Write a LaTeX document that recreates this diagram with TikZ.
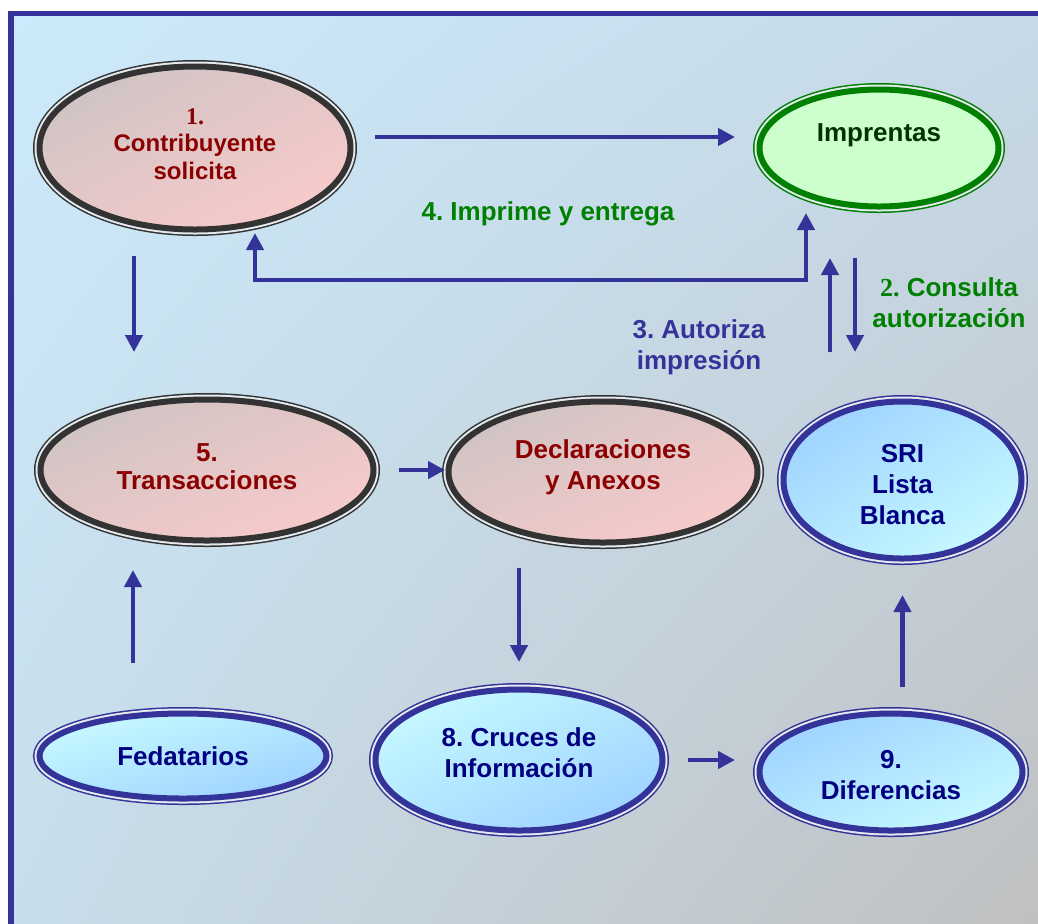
\documentclass[tikz,border=0pt]{standalone}
\usepackage{fontspec}
\setmainfont{Liberation Sans}
\newfontfamily\numfont{Liberation Serif}
\usetikzlibrary{shapes.geometric, arrows.meta, shadings}
\definecolor{frameBlue}{HTML}{333399}
\definecolor{bgLight}{HTML}{CCEAFB}
\definecolor{bgMidA}{HTML}{C6D9E7}
\definecolor{bgMidB}{HTML}{C7DDEA}
\definecolor{bgGray}{HTML}{BFBFBF}
\definecolor{ringDark}{HTML}{333333}
\definecolor{ringGreen}{HTML}{008000}
\definecolor{gapGray}{HTML}{E4EAEE}
\definecolor{pinkGray}{HTML}{C9C3C3}
\definecolor{pinkMid}{HTML}{E5C7C7}
\definecolor{pinkLight}{HTML}{FECBCB}
\definecolor{skyPale}{HTML}{CCFFFF}
\definecolor{skyMid}{HTML}{B3E6FF}
\definecolor{skyBlue}{HTML}{99CCFF}
\definecolor{mintFill}{HTML}{CCFFCC}
\definecolor{textRed}{HTML}{8B0000}
\definecolor{textNavy}{HTML}{000080}
\definecolor{textGreen}{HTML}{008000}
\definecolor{textDarkGreen}{HTML}{003300}

% invisible struts to nudge a label up (extra depth) or down (extra height)
\newcommand\textlift[1]{\rule[-#1]{0pt}{#1}}
\newcommand\textdrop[1]{\rule{0pt}{#1}}

\tikzset{flowhead/.tip={Triangle[length=8.5pt, width=8.5pt]}}

\begin{document}
\frenchspacing
\begin{tikzpicture}[x=0.5pt, y=-0.5pt,
    ringed/.style={ellipse, inner sep=0pt, outer sep=0pt, line width=3pt, draw=#1,
        preaction={draw=#1, line width=6.5pt},
        preaction={draw=gapGray, line width=5pt},
        align=center, font=\fontsize{13}{15.5}\selectfont\bfseries},
    redoval/.style={ringed=ringDark, text=textRed,
        upper left=pinkGray, upper right=pinkMid, lower left=pinkMid, lower right=pinkLight},
    blueoval/.style={ringed=frameBlue, text=textNavy,
        upper left=skyPale, upper right=skyMid, lower left=skyMid, lower right=skyBlue},
    bluerev/.style={ringed=frameBlue, text=textNavy,
        upper left=skyBlue, upper right=skyMid, lower left=skyMid, lower right=skyPale},
    greenoval/.style={ringed=ringGreen, text=textDarkGreen, fill=mintFill},
    flow/.style={draw=frameBlue, line width=2.3pt, -flowhead},
    note/.style={align=center, font=\fontsize{13}{15.5}\selectfont\bfseries}]

    % --- 1. Page and frame ---
    \useasboundingbox (0,0) rectangle (1038,923);
    \clip (0,0) rectangle (1038,923);
    \fill[white] (0,0) rectangle (1038,923);
    \shade[upper left=bgLight, upper right=bgMidA, lower left=bgMidB, lower right=bgGray]
        (11,13.5) rectangle (1060,950);
    \draw[frameBlue, line width=2.75pt] (11,13.5) rectangle (1060,950);

    % --- 2. Ovals ---
    \node[redoval, font=\fontsize{12}{13.8}\selectfont\bfseries,
        minimum width=155.5pt, minimum height=81.5pt] (contrib) at (195,148)
        {{\numfont 1.}\\Contribuyente\\solicita\textlift{4pt}};
    \node[greenoval, minimum width=119.5pt, minimum height=58.5pt] (imprentas) at (879,148)
        {Imprentas\\\mbox{}};
    \node[redoval, font=\fontsize{13}{14}\selectfont\bfseries,
        minimum width=166.5pt, minimum height=70.5pt] (trans) at (207,470)
        {5.\\Transacciones\textlift{3pt}};
    \node[redoval, minimum width=154.5pt, minimum height=70.5pt] (decl) at (603,472)
        {Declaraciones\\y Anexos\textlift{7pt}};
    \node[bluerev, minimum width=119pt, minimum height=78.5pt] (sri) at (902.5,480)
        {\textdrop{13.3pt}SRI\\Lista\\Blanca};
    \node[blueoval, minimum width=143.5pt, minimum height=42.5pt] (fed) at (183,756)
        {Fedatarios};
    \node[blueoval, minimum width=143.5pt, minimum height=70.5pt] (cruces) at (519,760)
        {8. Cruces de\\Información\textlift{7pt}};
    \node[bluerev, minimum width=131.5pt, minimum height=58.5pt] (dif) at (891,772)
        {\textdrop{12.3pt}9.\\Diferencias};

    % --- 3. Connectors ---
    \draw[flow, shorten <=12.25pt, shorten >=12.25pt]
        ([yshift=5.5pt]contrib.east) -- ([yshift=5.5pt]imprentas.west);
    \draw[flow, flowhead-flowhead]
        ([xshift=30pt, yshift=-1.75pt]contrib.south) -- ++(0,47)
        -| ([xshift=-36.5pt, yshift=-3.25pt]imprentas.south);
    \draw[flow, shorten <=13.25pt, shorten >=23.75pt]
        ([xshift=-30.5pt]contrib.south) -- ([xshift=-36.5pt]trans.north);
    \draw[flow, shorten <=25.25pt, shorten >=14.75pt]
        ([xshift=-25pt]fed.north) -- ([xshift=-37pt]trans.south);
    \draw[flow, shorten <=12.75pt, shorten >=1.75pt]
        (trans.east) -- (trans.east -| decl.west);
    \draw[flow, shorten <=12.75pt, shorten >=13.75pt]
        ([xshift=-42pt]decl.south) -- (cruces.north);
    \draw[flow, shorten <=12.75pt, shorten >=12.25pt]
        (cruces.east) -- (cruces.east -| dif.west);
    \draw[flow, shorten <=13.25pt, shorten >=18.25pt]
        (sri.south |- dif.north) -- (sri.south);
    % SRI and Imprentas, both ways
    \draw[flow, shorten <=24.75pt, shorten >=25.75pt]
        ([xshift=-36.25pt]sri.north) -- ([xshift=-24.5pt]imprentas.south);
    \draw[flow, shorten <=25.75pt, shorten >=24.75pt]
        ([xshift=-12pt]imprentas.south) -- ([xshift=-23.75pt]sri.north);

    % --- 4. Labels ---
    \node[note, text=textGreen] (printlbl) at (548,214) {4. Imprime y entrega};
    \node[note, text=textGreen] (asklbl) at (949,303) {{\numfont 2.} Consulta\\autorización};
    \node[note, text=frameBlue] (authlbl) at (699,347) {3. Autoriza\\impresión};

\end{tikzpicture}
\end{document}
